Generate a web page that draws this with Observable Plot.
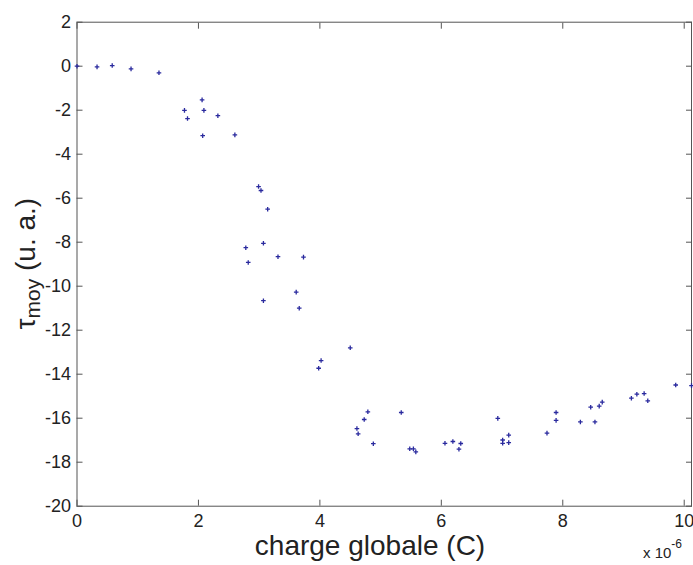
<!DOCTYPE html>
<html><head><meta charset="utf-8">
<script src="https://cdn.jsdelivr.net/npm/d3@7"></script>
<script src="https://cdn.jsdelivr.net/npm/@observablehq/plot@0.6"></script>
<style>
body{margin:0;background:#fff;}
#chart{position:relative;width:693px;height:565px;font-family:"Liberation Sans",Arial,Helvetica,sans-serif;}
</style></head><body><div id="chart"></div>
<script>
// charge globale (units of 1e-6 C)
const charge = [0.00, 0.33, 0.58, 0.89, 1.35, 1.77, 1.82, 2.06, 2.09, 2.07, 2.32, 2.60,
  2.99, 3.03, 3.14, 3.07, 2.78, 2.82, 3.31, 3.73, 3.61, 3.07, 3.66,
  4.50, 4.02, 3.98, 4.79, 5.34, 4.73, 6.93, 4.61, 4.63, 4.88, 5.48, 5.54, 5.58,
  6.06, 6.19, 6.32, 6.29, 7.01, 7.01, 7.11, 7.11, 7.74, 7.89, 7.89, 8.29, 8.46, 8.53,
  8.60, 8.65, 9.13, 9.22, 9.34, 9.40, 9.86, 10.12];
// tau moy (u. a.)
const tau = [0.00, -0.03, 0.03, -0.12, -0.30, -2.01, -2.38, -1.53, -2.01, -3.16, -2.25, -3.12,
  -5.47, -5.65, -6.50, -8.05, -8.25, -8.92, -8.66, -8.68, -10.27, -10.66, -11.00,
  -12.80, -13.38, -13.73, -15.71, -15.74, -16.06, -16.01, -16.47, -16.71, -17.16, -17.39, -17.39, -17.53,
  -17.14, -17.06, -17.15, -17.41, -16.99, -17.14, -16.77, -17.11, -16.68, -15.74, -16.10, -16.17, -15.50, -16.17,
  -15.45, -15.27, -15.09, -14.91, -14.88, -15.21, -14.49, -14.52];
const xTicks = [0, 2, 4, 6, 8, 10];
const yTicks = [2, 0, -2, -4, -6, -8, -10, -12, -14, -16, -18, -20];
const xLabel = "charge globale (C)";
const yLabelMain = "τ";
const yLabelSub = "moy";
const yLabelRest = " (u. a.)";
const xExponent = "-6";

const data = charge.map((c, i) => ({charge: c, tau: tau[i]}));
const axisColor = "#555";
const font = "'Liberation Sans', Arial, Helvetica, sans-serif";
const W = 693, H = 565;
const mL = 76.5, mR = 2, mT = 21.7, mB = 59.3;

const plot = Plot.plot({
  width: W, height: H,
  marginLeft: mL, marginRight: mR, marginTop: mT, marginBottom: mB,
  style: {fontFamily: font, fontSize: "18px", color: "#222", background: "#fff", overflow: "visible"},
  x: {domain: [0, 10.12]},
  y: {domain: [-20, 2]},
  marks: [
    Plot.frame({stroke: axisColor}),
    Plot.axisX(xTicks, {anchor: "bottom", tickSize: -6, tickPadding: 14, label: null, stroke: axisColor, fill: "#222", fontSize: 18, tickFormat: d => String(d)}),
    Plot.axisX(xTicks, {anchor: "top", tickSize: -6, label: null, stroke: axisColor, tickFormat: () => ""}),
    Plot.axisY(yTicks, {anchor: "left", tickSize: -6, tickPadding: 12, label: null, stroke: axisColor, fill: "#222", fontSize: 18, tickFormat: d => String(d)}),
    Plot.axisY(yTicks, {anchor: "right", tickSize: -6, label: null, stroke: axisColor, tickFormat: () => ""}),
    Plot.dot(data, {x: "charge", y: "tau", symbol: "plus", r: 1.6, stroke: "#2a2a9e", strokeWidth: 1.3, fill: "none"})
  ]
});
document.getElementById("chart").appendChild(plot);

const svg = d3.select(plot);
const cy = (mT + (H - mB)) / 2;
const yl = svg.append("text")
  .attr("transform", `translate(35,${cy}) rotate(-90)`)
  .attr("text-anchor", "middle")
  .attr("font-family", font)
  .attr("font-size", 28)
  .attr("fill", "#222");
yl.append("tspan").text(yLabelMain);
yl.append("tspan").attr("font-size", 21).attr("dy", 5).text(yLabelSub);
yl.append("tspan").attr("dy", -5).text(yLabelRest);

svg.append("text")
  .attr("x", 370).attr("y", 555)
  .attr("text-anchor", "middle")
  .attr("font-family", font)
  .attr("font-size", 28)
  .attr("fill", "#222")
  .text(xLabel);

const ex = svg.append("text")
  .attr("x", 643).attr("y", 558)
  .attr("text-anchor", "start")
  .attr("font-family", font)
  .attr("font-size", 15)
  .attr("fill", "#222");
ex.append("tspan").text("x 10");
ex.append("tspan").attr("font-size", 12).attr("dy", -10).text(xExponent);
</script></body></html>
